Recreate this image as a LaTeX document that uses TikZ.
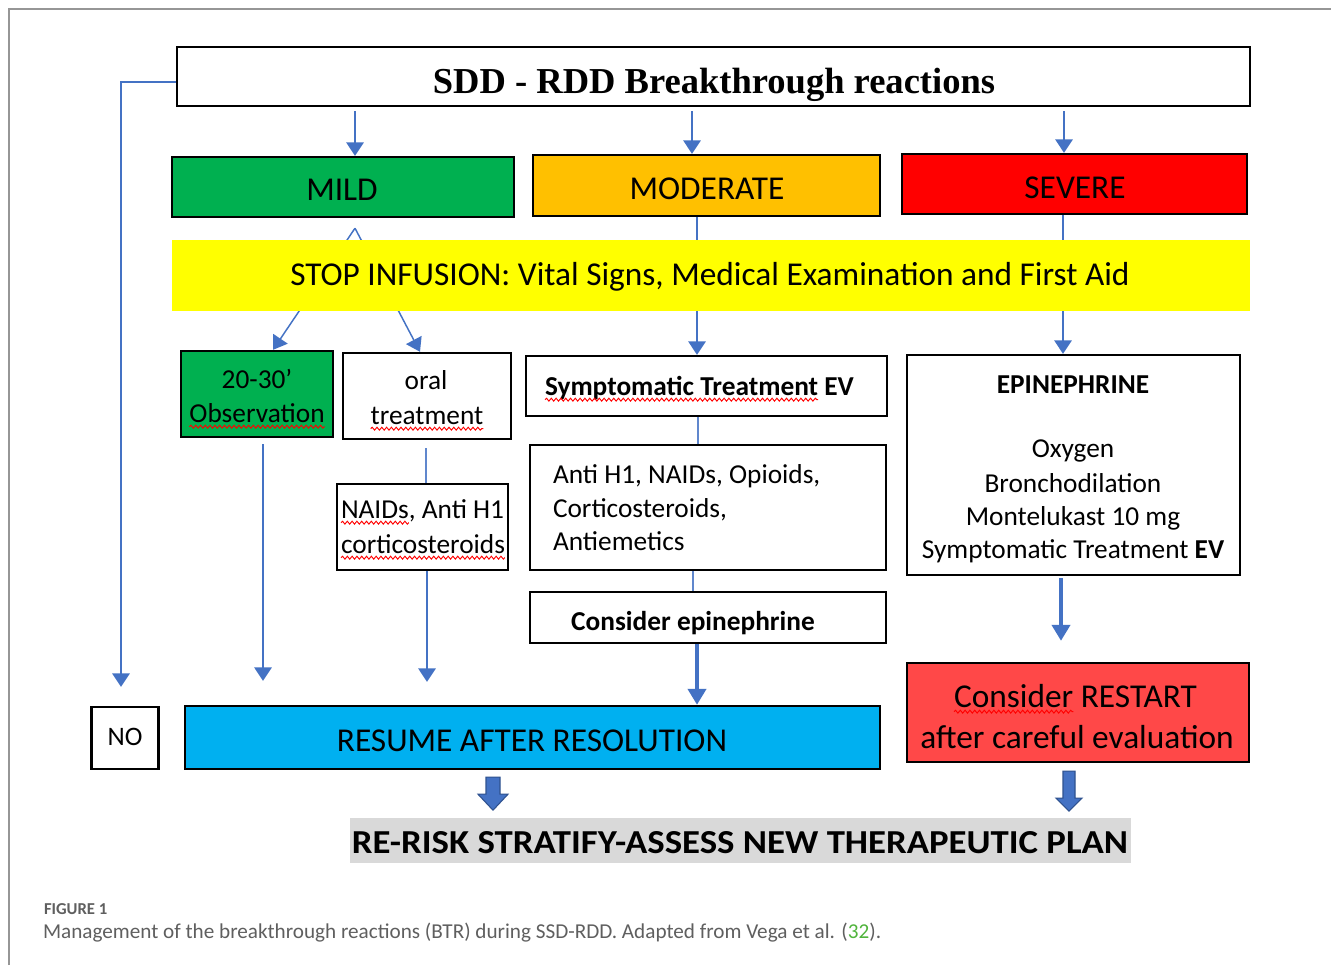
\documentclass[tikz,border=0pt]{standalone}
\usepackage{fontspec}
\setmainfont{Carlito}
\newfontfamily\timesfont{Liberation Serif}
\usetikzlibrary{arrows.meta,calc,decorations.pathmorphing}
\newlength\pxu \setlength\pxu{0.75pt}
\newcommand\fs[1]{\fontsize{#1pt}{#1pt}\selectfont}
\definecolor{connblue}{RGB}{68,114,196}
\definecolor{mildgreen}{RGB}{0,176,80}
\definecolor{modorange}{RGB}{255,192,0}
\definecolor{sevred}{RGB}{255,0,0}
\definecolor{stopyellow}{RGB}{255,255,0}
\definecolor{resumeblue}{RGB}{0,176,240}
\definecolor{restartred}{RGB}{255,72,72}
\definecolor{bannergrey}{RGB}{217,217,217}
\definecolor{framegrey}{RGB}{150,150,150}
\definecolor{capgrey}{RGB}{95,95,95}
\definecolor{refgreen}{RGB}{80,180,60}
\definecolor{blockedge}{RGB}{47,82,143}
\begin{document}
\begin{tikzpicture}[x=0.75pt,y=-0.75pt,
  box/.style={draw=black, line width=1.8pt, inner sep=0pt, fill=white},
  band/.style={draw=none, inner sep=0pt},
  txt/.style={inner sep=0pt, outer sep=0pt, anchor=base, text=black},
  conn/.style={draw=connblue, line width=1.1pt, -{Triangle[width=13pt,length=10pt]}},
  plain/.style={draw=connblue!85, line width=1.1pt},
  thickconn/.style={draw=connblue, line width=3pt, -{Triangle[width=13.5pt,length=12pt]}},
  squig/.style={draw=red, line width=0.7pt, decorate, decoration={snake, amplitude=1.1pt, segment length=3.6pt}},
  blockarr/.style={fill=connblue, draw=blockedge, line width=0.8pt}]
\fill[white] (0,0) rectangle (1331,965);
\useasboundingbox (0,0) rectangle (1331,965);
\draw[framegrey, line width=1pt] (9,965) -- (9,9) -- (1331,9);

% boxes
\node[box, minimum width=1073\pxu, minimum height=59\pxu] (title) at (713.5,76.5) {};
\node[box, fill=mildgreen, minimum width=342\pxu, minimum height=60\pxu] (mild) at (343,187) {};
\node[box, fill=modorange, minimum width=347\pxu, minimum height=61\pxu] (moderate) at (706.5,185.5) {};
\node[box, fill=sevred, minimum width=345\pxu, minimum height=60\pxu] (severe) at (1074.5,184) {};
\node[box, fill=mildgreen, minimum width=152\pxu, minimum height=86\pxu] (obs) at (257,394) {};
\node[box, minimum width=168\pxu, minimum height=86\pxu] (oral) at (427,396) {};
\node[box, minimum width=171\pxu, minimum height=86\pxu] (naids) at (422.5,527) {};
\node[box, minimum width=361\pxu, minimum height=60\pxu] (sympt) at (706.5,386) {};
\node[box, minimum width=356\pxu, minimum height=125\pxu] (antih) at (708,507.5) {};
\node[box, minimum width=356\pxu, minimum height=51\pxu] (conepi) at (708,617.5) {};
\node[box, minimum width=333\pxu, minimum height=220\pxu] (epi) at (1073.5,465) {};
\node[box, fill=restartred, minimum width=342\pxu, minimum height=99\pxu] (restart) at (1078,712.5) {};
\node[box, minimum width=67\pxu, minimum height=62\pxu] (no) at (125,738) {};
\node[box, fill=resumeblue, minimum width=695\pxu, minimum height=63\pxu] (resume) at (532.5,737.5) {};
\node[band, fill=bannergrey, minimum width=781\pxu, minimum height=45\pxu] (banner) at (740.5,840.5) {};

% connectors
\draw[conn, shorten <=3pt] ($(title.south -| mild.north)+(12,0)$) -- ($(mild.north)+(12,0)$);
\draw[conn, shorten <=3pt] ($(title.south -| moderate.north)+(-14.5,0)$) -- ($(moderate.north)+(-14.5,0)$);
\draw[conn, shorten <=3pt] ($(title.south -| severe.north)+(-10.5,0)$) -- ($(severe.north)+(-10.5,0)$);
\coordinate (noTip) at ($(no.north)+(-4,-19)$);
\draw[conn] ([yshift=-4.1pt]title.west) -| (noTip);
\coordinate (fork) at ($(mild.south)+(12,10)$);
\draw[conn] (fork) -- ($(obs.north)+(16,0)$);
\draw[conn] (fork) -- ($(oral.north)+(-7,0)$);
\draw[conn] ($(moderate.south)+(-9.5,0)$) -- ($(sympt.north)+(-9.5,0)$);
\draw[conn] ($(severe.south)+(-11.5,0)$) -- ($(epi.north)+(-10.5,0)$);

% yellow band over the stems
\node[band, fill=stopyellow, minimum width=1078\pxu, minimum height=71\pxu] (stop) at (711,275.5) {};

\coordinate (obsEnd) at ($(resume.north -| obs.south)+(6,-24)$);
\draw[conn] ($(obs.south)+(6,6)$) -- (obsEnd);
\draw[plain] ($(oral.south)+(-1,8)$) -- ($(naids.north)+(3.5,0)$);
\coordinate (naEnd) at ($(resume.north -| naids.south)+(4.5,-23)$);
\draw[conn] ($(naids.south)+(4.5,0)$) -- (naEnd);
\draw[plain] ($(sympt.south)+(-8.5,0)$) -- ($(antih.north)+(-10,0)$);
\draw[plain] ($(antih.south)+(-15,0)$) -- ($(conepi.north)+(-15,0)$);
\draw[thickconn] ($(conepi.south)+(-11,0)$) -- ($(resume.north -| conepi.south)+(-11,0)$);
\draw[thickconn] ($(epi.south)+(-12.5,2)$) -- ($(restart.north)+(-17,-21)$);

% block arrows
\coordinate (ba1) at ($(resume.south)+(-39.5,7)$);
\filldraw[blockarr, shift={(ba1)}] (-7,0) -- (7,0) -- (7,17) -- (15,17) -- (0,33) -- (-15,17) -- (-7,17) -- cycle;
\coordinate (ba2) at ($(restart.south)+(-9,8)$);
\filldraw[blockarr, shift={(ba2)}] (-6,0) -- (6,0) -- (6,27) -- (13,27) -- (0,40) -- (-13,27) -- (-6,27) -- cycle;

% texts
\node[txt] (titletxt) at (714,93) {\timesfont\bfseries\fs{27.4}SDD - RDD Breakthrough reactions};
\node[txt] (mildtxt) at (342,200) {\fs{25}MILD};
\node[txt] (modtxt) at (707,199) {\fs{25}MODERATE};
\node[txt] (sevtxt) at (1075,198) {\fs{25}SEVERE};
\node[txt] (stoptxt) at (710,285) {\fs{25}STOP INFUSION: Vital Signs, Medical Examination and First Aid};
\node[txt] (obs1) at (257,388) {\fs{20.5}20-30’};
\node[txt] (obs2) at (257,422) {\fs{20.5}Observation};
\node[txt] (oral1) at (426,389) {\fs{20.5}oral};
\node[txt] (oral2) at (427,424) {\fs{20.5}treatment};
\node[txt, anchor=base west] (na1) at (341,518) {\fs{20.5}NAIDs};
\node[txt, anchor=base west] (na2) at (na1.base east) {\fs{20.5}, Anti H1};
\node[txt] (na3) at (423,553) {\fs{20.5}corticosteroids};
\node[txt, anchor=base west] (st1) at (545,395) {\fs{20.5}\bfseries Symptomatic Treatment};
\node[txt, anchor=base west] (st2) at ([xshift=4.6pt]st1.base east) {\fs{20.5}\bfseries EV};
\node[txt, anchor=base west] (ah1) at (553,483) {\fs{20.5}Anti H1, NAIDs, Opioids,};
\node[txt, anchor=base west] (ah2) at (553,517) {\fs{20.5}Corticosteroids,};
\node[txt, anchor=base west] (ah3) at (553,550) {\fs{20.5}Antiemetics};
\node[txt] (cetxt) at (693,630) {\fs{20.5}\bfseries Consider epinephrine};
\node[txt] (ep1) at (1073,393) {\fs{20.5}\bfseries EPINEPHRINE};
\node[txt] (ep2) at (1073,457) {\fs{20.5}Oxygen};
\node[txt] (ep3) at (1073,492) {\fs{20.5}Bronchodilation};
\node[txt] (ep4) at (1073,525) {\fs{20.5}Montelukast 10 mg};
\node[txt] (ep5) at (1073,558) {\fs{20.5}Symptomatic Treatment \textbf{EV}};
\node[txt, anchor=base west] (cr1) at (954,707) {\fs{25}Consider};
\node[txt, anchor=base west] (cr2) at ([xshift=5.7pt]cr1.base east) {\fs{25}RESTART};
\node[txt] (cr3) at (1077,748) {\fs{25}after careful evaluation};
\node[txt] (notxt) at (125,745) {\fs{20}NO};
\node[txt] (restxt) at (532,751) {\fs{25}RESUME AFTER RESOLUTION};
\node[txt] (bantxt) at (740,853) {\resizebox{776\pxu}{22\pxu}{\fs{25}\bfseries RE-RISK STRATIFY-ASSESS NEW THERAPEUTIC PLAN}};
\node[txt, anchor=base west, text=capgrey] (figlbl) at (44,914) {\fs{12.5}\bfseries FIGURE 1};
\node[txt, anchor=base west, text=capgrey] (figcap) at (43,938) {\resizebox{838\pxu}{!}{Management of the breakthrough reactions (BTR) during SSD-RDD. Adapted from Vega et al. (\textcolor{refgreen}{32}).}};

% spell-check underlines
\draw[squig] ([yshift=-3.5pt]obs2.base west) -- ([yshift=-3.5pt]obs2.base east);
\draw[squig] ([yshift=-3.5pt]oral2.base west) -- ([yshift=-3.5pt]oral2.base east);
\draw[squig] ([yshift=-3.5pt]st1.base west) -- ([yshift=-3.5pt]st1.base east);
\draw[squig] ([yshift=-3.5pt]na1.base west) -- ([yshift=-3.5pt]na1.base east);
\draw[squig] ([yshift=-3.5pt]na3.base west) -- ([yshift=-3.5pt]na3.base east);
\draw[squig] ([yshift=-3.5pt]cr1.base west) -- ([yshift=-3.5pt]cr1.base east);
\end{tikzpicture}
\end{document}
